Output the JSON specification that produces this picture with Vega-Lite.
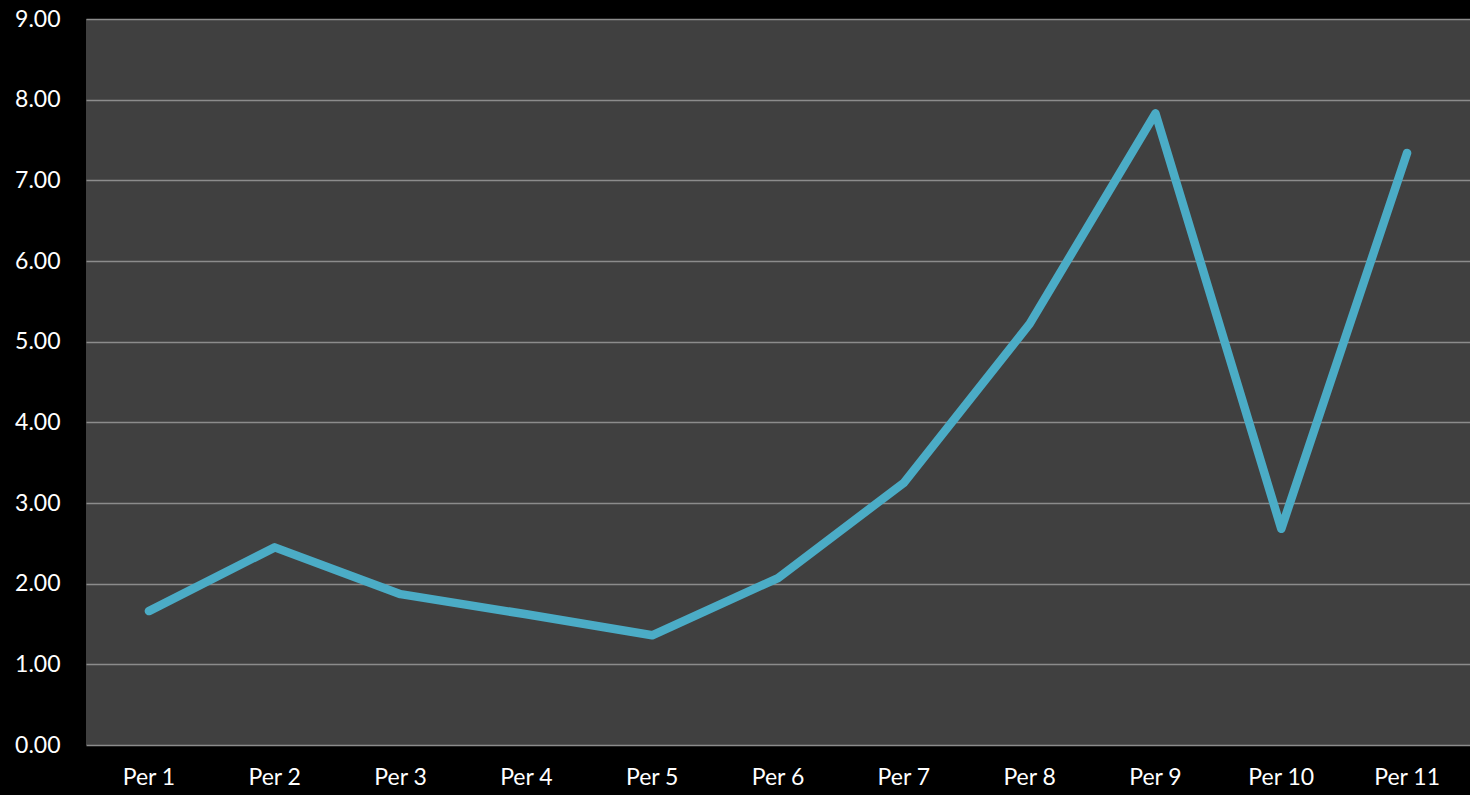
{
  "$schema": "https://vega.github.io/schema/vega-lite/v6.json",
  "autosize": {"type": "none"},
  "padding": {"left": 86, "top": 19, "right": 0, "bottom": 50},
  "width": 1384,
  "height": 726,
  "background": "#000000",
  "config": {
    "view": {"fill": "#404040", "stroke": null},
    "font": "Lato"
  },
  "data": {
    "values": [
      {"period": "Per 1", "value": 1.66},
      {"period": "Per 2", "value": 2.45},
      {"period": "Per 3", "value": 1.87},
      {"period": "Per 4", "value": 1.62},
      {"period": "Per 5", "value": 1.36},
      {"period": "Per 6", "value": 2.07},
      {"period": "Per 7", "value": 3.25},
      {"period": "Per 8", "value": 5.22},
      {"period": "Per 9", "value": 7.83},
      {"period": "Per 10", "value": 2.68},
      {"period": "Per 11", "value": 7.34}
    ]
  },
  "mark": {"type": "line", "color": "#4BACC6", "strokeWidth": 8.5, "strokeCap": "round", "strokeJoin": "round"},
  "encoding": {
    "x": {
      "field": "period", "type": "nominal", "sort": null,
      "scale": {"type": "band", "paddingInner": 0, "paddingOuter": 0},
      "axis": {"title": null, "labelAngle": 0, "labelColor": "#FFFFFF", "labelFontSize": 23, "labelFontWeight": "normal", "labelOverlap": false, "ticks": false, "domain": false, "labelPadding": 21, "grid": false}
    },
    "y": {
      "field": "value", "type": "quantitative",
      "scale": {"domain": [0, 9]},
      "axis": {"title": null, "format": ".2f", "values": [0,1,2,3,4,5,6,7,8,9], "labelOverlap": false, "labelBound": false, "labelColor": "#FFFFFF", "labelFontSize": 23, "labelFontWeight": "normal", "ticks": false, "domain": false, "labelPadding": 26, "gridColor": "#8C8C8C", "gridWidth": 1.5, "gridOpacity": 1}
    }
  }
}
